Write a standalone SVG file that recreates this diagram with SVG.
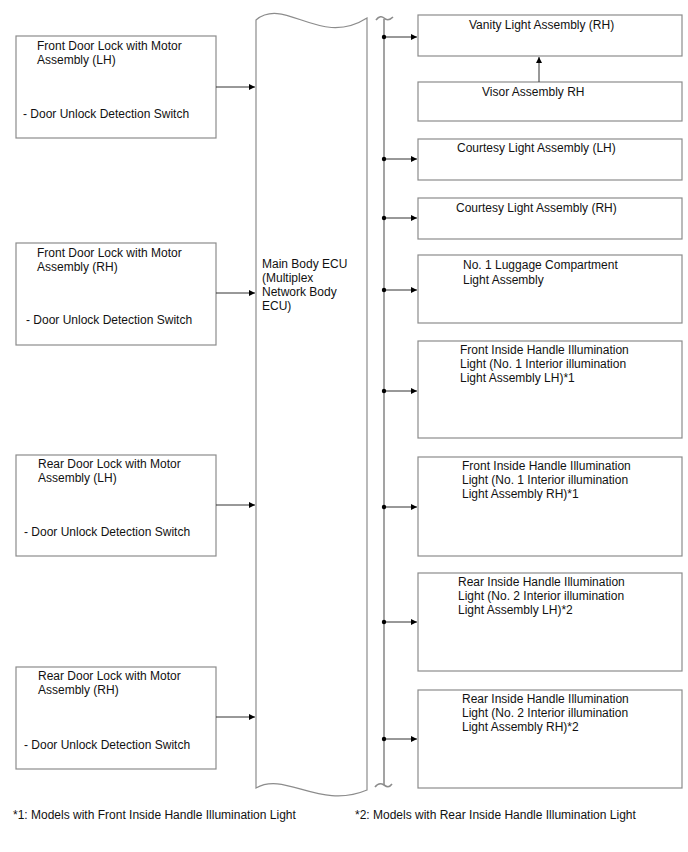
<svg xmlns="http://www.w3.org/2000/svg" width="688" height="852" viewBox="0 0 688 852">
<defs>
<marker id="ah" viewBox="0 0 10 10" refX="10" refY="5" markerWidth="9" markerHeight="6" markerUnits="userSpaceOnUse" orient="auto">
<path d="M0,0 L10,5 L0,10 Z" fill="#000"/>
</marker>
<style>
.box{fill:#fff;stroke:#8c8c8c;stroke-width:1.2}
.t{font-family:"Liberation Sans",Arial,sans-serif;font-size:12px;fill:#111}
.ln{stroke:#333;stroke-width:1;fill:none}
.bus{stroke:#8c8c8c;stroke-width:1.6;fill:none}
.dot{fill:#000}
</style>
</defs>
<rect width="688" height="852" fill="#fff"/>

<g id="ecu">
<path class="box" d="M256,20 C285,-4 320,48 367,18 L367,790 C320,810 285,771 256,788 Z"/>
<text class="t" x="262" y="268">Main Body ECU</text>
<text class="t" x="262" y="282">(Multiplex</text>
<text class="t" x="262" y="296">Network Body</text>
<text class="t" x="262" y="310">ECU)</text>
</g>

<g id="front-door-lh">
<rect class="box" x="16" y="36" width="200" height="102"/>
<text class="t" x="37" y="50">Front Door Lock with Motor</text>
<text class="t" x="37" y="64">Assembly (LH)</text>
<text class="t" x="23" y="118">- Door Unlock Detection Switch</text>
</g>
<g id="front-door-rh">
<rect class="box" x="16" y="243" width="200" height="102"/>
<text class="t" x="37" y="257">Front Door Lock with Motor</text>
<text class="t" x="37" y="271">Assembly (RH)</text>
<text class="t" x="26" y="324">- Door Unlock Detection Switch</text>
</g>
<g id="rear-door-lh">
<rect class="box" x="16" y="455" width="200" height="101"/>
<text class="t" x="38" y="468">Rear Door Lock with Motor</text>
<text class="t" x="38" y="482">Assembly (LH)</text>
<text class="t" x="24" y="536">- Door Unlock Detection Switch</text>
</g>
<g id="rear-door-rh">
<rect class="box" x="16" y="667" width="200" height="102"/>
<text class="t" x="38" y="680">Rear Door Lock with Motor</text>
<text class="t" x="38" y="694">Assembly (RH)</text>
<text class="t" x="24" y="749">- Door Unlock Detection Switch</text>
</g>

<g id="vanity">
<rect class="box" x="418" y="15" width="264" height="41"/>
<text class="t" x="469" y="29">Vanity Light Assembly (RH)</text>
</g>
<g id="visor">
<rect class="box" x="418" y="82" width="264" height="39"/>
<text class="t" x="482" y="96">Visor Assembly RH</text>
</g>
<g id="courtesy-lh">
<rect class="box" x="418" y="139" width="264" height="41"/>
<text class="t" x="457" y="152">Courtesy Light Assembly (LH)</text>
</g>
<g id="courtesy-rh">
<rect class="box" x="418" y="198" width="264" height="41"/>
<text class="t" x="456" y="212">Courtesy Light Assembly (RH)</text>
</g>
<g id="luggage">
<rect class="box" x="418" y="255" width="264" height="68"/>
<text class="t" x="463" y="269">No. 1 Luggage Compartment</text>
<text class="t" x="463" y="284">Light Assembly</text>
</g>
<g id="front-handle-lh">
<rect class="box" x="418" y="341" width="264" height="97"/>
<text class="t" x="460" y="354">Front Inside Handle Illumination</text>
<text class="t" x="460" y="368">Light (No. 1 Interior illumination</text>
<text class="t" x="460" y="382">Light Assembly LH)*1</text>
</g>
<g id="front-handle-rh">
<rect class="box" x="418" y="457" width="264" height="99"/>
<text class="t" x="462" y="470">Front Inside Handle Illumination</text>
<text class="t" x="462" y="484">Light (No. 1 Interior illumination</text>
<text class="t" x="462" y="498">Light Assembly RH)*1</text>
</g>
<g id="rear-handle-lh">
<rect class="box" x="418" y="573" width="264" height="98"/>
<text class="t" x="458" y="586">Rear Inside Handle Illumination</text>
<text class="t" x="458" y="600">Light (No. 2 Interior illumination</text>
<text class="t" x="458" y="614">Light Assembly LH)*2</text>
</g>
<g id="rear-handle-rh">
<rect class="box" x="418" y="690" width="264" height="98"/>
<text class="t" x="462" y="703">Rear Inside Handle Illumination</text>
<text class="t" x="462" y="717">Light (No. 2 Interior illumination</text>
<text class="t" x="462" y="731">Light Assembly RH)*2</text>
</g>

<g id="connectors">
<line class="ln" x1="216" y1="87" x2="255" y2="87" marker-end="url(#ah)"/>
<line class="ln" x1="216" y1="293" x2="255" y2="293" marker-end="url(#ah)"/>
<line class="ln" x1="216" y1="505" x2="255" y2="505" marker-end="url(#ah)"/>
<line class="ln" x1="216" y1="717" x2="255" y2="717" marker-end="url(#ah)"/>

<line class="bus" x1="384" y1="19" x2="384" y2="785"/>
<path class="bus" d="M376,20 C379,16 382,16 384,18 S389,21 393,17"/>
<path class="bus" d="M375,787 C378,783 381,783 384,785 S389,788 392,784"/>

<line class="ln" x1="384" y1="37" x2="417" y2="37" marker-end="url(#ah)"/>
<line class="ln" x1="384" y1="159" x2="417" y2="159" marker-end="url(#ah)"/>
<line class="ln" x1="384" y1="218" x2="417" y2="218" marker-end="url(#ah)"/>
<line class="ln" x1="384" y1="290" x2="417" y2="290" marker-end="url(#ah)"/>
<line class="ln" x1="384" y1="391" x2="417" y2="391" marker-end="url(#ah)"/>
<line class="ln" x1="384" y1="507" x2="417" y2="507" marker-end="url(#ah)"/>
<line class="ln" x1="384" y1="622" x2="417" y2="622" marker-end="url(#ah)"/>
<line class="ln" x1="384" y1="739" x2="417" y2="739" marker-end="url(#ah)"/>
<circle class="dot" cx="384" cy="37" r="2.2"/>
<circle class="dot" cx="384" cy="159" r="2.2"/>
<circle class="dot" cx="384" cy="218" r="2.2"/>
<circle class="dot" cx="384" cy="290" r="2.2"/>
<circle class="dot" cx="384" cy="391" r="2.2"/>
<circle class="dot" cx="384" cy="507" r="2.2"/>
<circle class="dot" cx="384" cy="622" r="2.2"/>
<circle class="dot" cx="384" cy="739" r="2.2"/>

<line class="ln" x1="539" y1="82" x2="539" y2="57" marker-end="url(#ah)"/>
</g>

<text class="t" x="13" y="819">*1: Models with Front Inside Handle Illumination Light</text>
<text class="t" x="355" y="819">*2: Models with Rear Inside Handle Illumination Light</text>
</svg>
